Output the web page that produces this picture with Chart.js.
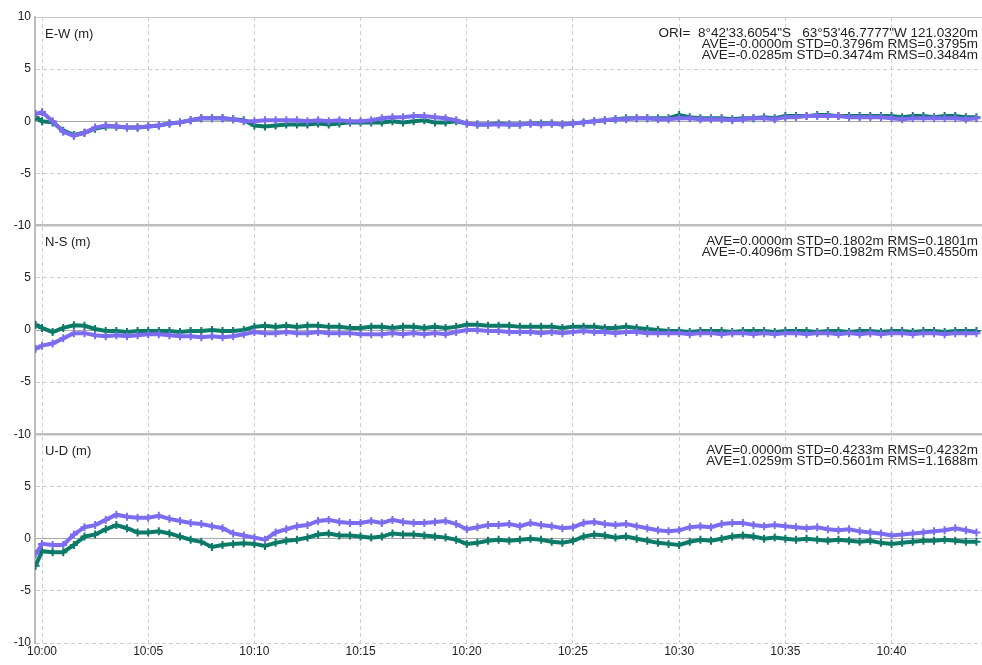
<!DOCTYPE html>
<html lang="en">
  <head>
    <meta charset="UTF-8" />
    <title>E-W / N-S / U-D</title>
    <style>
      html, body { margin: 0; padding: 0; background: #fff; overflow: hidden; }
      /* the layout keeps ~6px free on the right, so the box is a bit wider than the window */
      .chart { position: relative; width: 988px; height: 665px; }
      canvas { display: block; }
    </style>
  </head>
  <body>
    <script src="https://cdn.jsdelivr.net/npm/chart.js"></script>
    <div class="chart"><canvas id="chart"></canvas></div>

    <script>
      // minutes after 10:00 (one sample every 30 s)
      const times = [
        -0.3, 0, 0.5, 1, 1.5, 2, 2.5, 3, 3.5, 4,
        4.5, 5, 5.5, 6, 6.5, 7, 7.5, 8, 8.5, 9,
        9.5, 10, 10.5, 11, 11.5, 12, 12.5, 13, 13.5, 14,
        14.5, 15, 15.5, 16, 16.5, 17, 17.5, 18, 18.5, 19,
        19.5, 20, 20.5, 21, 21.5, 22, 22.5, 23, 23.5, 24,
        24.5, 25, 25.5, 26, 26.5, 27, 27.5, 28, 28.5, 29,
        29.5, 30, 30.5, 31, 31.5, 32, 32.5, 33, 33.5, 34,
        34.5, 35, 35.5, 36, 36.5, 37, 37.5, 38, 38.5, 39,
        39.5, 40, 40.5, 41, 41.5, 42, 42.5, 43, 43.5, 44,
      ];

      const ewTeal = [
        0.4, 0.0, -0.1, -0.9, -1.3, -1.1, -0.7, -0.5, -0.5, -0.6,
        -0.6, -0.5, -0.4, -0.2, -0.1, 0.1, 0.3, 0.3, 0.3, 0.2,
        0.1, -0.4, -0.5, -0.4, -0.3, -0.3, -0.3, -0.2, -0.3, -0.2,
        -0.1, -0.1, -0.1, -0.1, 0.0, -0.1, 0.0, 0.1, -0.1, -0.1,
        0.0, -0.2, -0.3, -0.3, -0.2, -0.3, -0.3, -0.2, -0.2, -0.2,
        -0.3, -0.2, -0.1, 0.0, 0.1, 0.2, 0.3, 0.3, 0.3, 0.3,
        0.3, 0.6, 0.4, 0.3, 0.3, 0.3, 0.2, 0.3, 0.3, 0.4,
        0.3, 0.5, 0.5, 0.5, 0.6, 0.6, 0.5, 0.5, 0.5, 0.5,
        0.5, 0.5, 0.4, 0.5, 0.5, 0.4, 0.5, 0.5, 0.4, 0.4,
      ];
      const ewPurple = [
        0.7, 0.9, 0.0, -1.0, -1.4, -1.1, -0.6, -0.4, -0.5, -0.6,
        -0.6, -0.5, -0.4, -0.2, -0.1, 0.1, 0.3, 0.3, 0.3, 0.2,
        0.0, 0.0, 0.1, 0.1, 0.1, 0.1, 0.0, 0.1, 0.0, 0.1,
        0.0, 0.0, 0.1, 0.3, 0.4, 0.4, 0.5, 0.5, 0.4, 0.3,
        0.1, -0.2, -0.3, -0.3, -0.3, -0.3, -0.3, -0.2, -0.3, -0.2,
        -0.3, -0.2, -0.1, 0.0, 0.1, 0.2, 0.2, 0.3, 0.3, 0.2,
        0.2, 0.3, 0.3, 0.2, 0.2, 0.2, 0.1, 0.2, 0.3, 0.3,
        0.2, 0.4, 0.4, 0.5, 0.5, 0.5, 0.5, 0.4, 0.4, 0.4,
        0.4, 0.3, 0.2, 0.3, 0.3, 0.3, 0.3, 0.3, 0.2, 0.3,
      ];

      const nsTeal = [
        0.5, 0.2, -0.2, 0.2, 0.45, 0.4, 0.1, -0.1, -0.1, -0.2,
        -0.1, -0.1, -0.1, -0.1, -0.2, -0.1, -0.1, 0.0, -0.1, -0.1,
        0.0, 0.3, 0.4, 0.3, 0.4, 0.3, 0.4, 0.4, 0.3, 0.3,
        0.2, 0.2, 0.3, 0.3, 0.2, 0.3, 0.3, 0.2, 0.3, 0.2,
        0.3, 0.5, 0.5, 0.4, 0.4, 0.4, 0.3, 0.3, 0.3, 0.3,
        0.2, 0.3, 0.3, 0.3, 0.2, 0.2, 0.3, 0.2, 0.1, 0.0,
        -0.1, -0.1, -0.2, -0.1, -0.1, -0.1, -0.2, -0.1, -0.1, -0.1,
        -0.2, -0.1, -0.1, -0.1, -0.2, -0.1, -0.1, -0.2, -0.1, -0.1,
        -0.2, -0.1, -0.1, -0.2, -0.1, -0.1, -0.2, -0.1, -0.1, -0.1,
      ];
      const nsPurple = [
        -1.8, -1.5, -1.3, -0.8, -0.3, -0.3, -0.5, -0.6, -0.5, -0.6,
        -0.5, -0.4, -0.4, -0.5, -0.6, -0.6, -0.7, -0.6, -0.7, -0.6,
        -0.4, -0.2, -0.3, -0.3, -0.2, -0.3, -0.3, -0.2, -0.3, -0.3,
        -0.3, -0.4, -0.4, -0.4, -0.3, -0.4, -0.3, -0.4, -0.3, -0.4,
        -0.2, 0.0, 0.0, -0.1, -0.1, -0.2, -0.2, -0.2, -0.3, -0.2,
        -0.3, -0.2, -0.1, -0.2, -0.2, -0.3, -0.2, -0.2, -0.3, -0.3,
        -0.3, -0.3, -0.4, -0.3, -0.3, -0.4, -0.3, -0.3, -0.4, -0.3,
        -0.4, -0.3, -0.3, -0.4, -0.3, -0.3, -0.4, -0.3, -0.4, -0.3,
        -0.4, -0.3, -0.3, -0.4, -0.3, -0.3, -0.4, -0.3, -0.3, -0.3,
      ];

      const udTeal = [
        -2.6, -1.2, -1.3, -1.3, -0.6, 0.2, 0.4, 0.9, 1.3, 1.0,
        0.6, 0.6, 0.7, 0.5, 0.2, -0.1, -0.3, -0.8, -0.6, -0.5,
        -0.45, -0.5, -0.7, -0.4, -0.2, -0.1, 0.1, 0.4, 0.5, 0.3,
        0.3, 0.2, 0.1, 0.2, 0.5, 0.4, 0.4, 0.3, 0.2, 0.1,
        -0.1, -0.5, -0.4, -0.2, -0.1, -0.2, -0.1, 0.0, -0.1, -0.3,
        -0.4, -0.2, 0.2, 0.4, 0.3, 0.1, 0.2, 0.0, -0.2, -0.4,
        -0.5, -0.6, -0.3, -0.1, -0.2, 0.0, 0.2, 0.3, 0.2, 0.0,
        0.1, 0.0, -0.1, 0.0, -0.1, -0.2, -0.1, -0.2, -0.3, -0.2,
        -0.4, -0.5, -0.4, -0.3, -0.2, -0.2, -0.1, -0.2, -0.3, -0.3,
      ];
      const udPurple = [
        -1.5, -0.5, -0.6, -0.6, 0.4, 1.1, 1.3, 1.8, 2.3, 2.1,
        2.0, 2.0, 2.2, 1.9, 1.7, 1.5, 1.4, 1.2, 1.0, 0.5,
        0.3, 0.1, -0.1, 0.6, 0.9, 1.2, 1.3, 1.7, 1.8, 1.6,
        1.5, 1.5, 1.7, 1.5, 1.8, 1.6, 1.5, 1.5, 1.6, 1.7,
        1.4, 0.9, 1.1, 1.3, 1.3, 1.4, 1.2, 1.5, 1.3, 1.2,
        1.0, 1.1, 1.5, 1.6, 1.4, 1.3, 1.4, 1.2, 1.0, 0.8,
        0.7, 0.8, 1.1, 1.2, 1.1, 1.4, 1.5, 1.5, 1.3, 1.2,
        1.3, 1.2, 1.1, 1.0, 1.1, 0.9, 0.8, 0.9, 0.7, 0.6,
        0.5, 0.3, 0.4, 0.5, 0.6, 0.7, 0.8, 1.0, 0.8, 0.6,
      ];

      const yTicks = [10, 5, 0, -5, -10];
      const panelTitles = ["E-W (m)", "N-S (m)", "U-D (m)"];
      const panelStats = [
        [
          "ORI=  8°42'33.6054\"S   63°53'46.7777\"W 121.0320m",
          "AVE=-0.0000m STD=0.3796m RMS=0.3795m",
          "AVE=-0.0285m STD=0.3474m RMS=0.3484m",
        ],
        ["AVE=0.0000m STD=0.1802m RMS=0.1801m", "AVE=-0.4096m STD=0.1982m RMS=0.4550m"],
        ["AVE=0.0000m STD=0.4233m RMS=0.4232m", "AVE=1.0259m STD=0.5601m RMS=1.1688m"],
      ];

      const TEAL = "#0b7a66";
      const PURPLE = "#7b6cf0";
      const FONT = "'Liberation Sans', Arial, sans-serif";

      const pts = (vals) => times.map((t, i) => ({ x: t, y: vals[i] }));

      function series(vals, color, axis, order) {
        return {
          data: pts(vals),
          yAxisID: axis,
          borderColor: color,
          backgroundColor: color,
          borderWidth: 4,
          pointStyle: "cross",
          pointRadius: 4,
          pointBorderWidth: 2,
          pointBorderColor: color,
          tension: 0,
          order: order,
        };
      }

      function yScale(weight, last, first) {
        return {
          type: "linear",
          position: "left",
          stack: "panels",
          stackWeight: 1,
          weight: weight,
          min: -10,
          max: 10,
          afterFit: (s) => { s.width = 35; },
          afterBuildTicks: (s) => { s.ticks = yTicks.map((v) => ({ value: v })); },
          ticks: {
            color: "#222",
            font: { family: FONT, size: 12 },
            padding: 4,
            callback: (v) => (v === 10 && !first ? "" : v),
          },
          grid: {
            drawTicks: false,
            color: (c) => {
              const v = c.tick && c.tick.value;
              if (v === 0) return "#a8a8a8";
              if (v === -10 && !last) return "#bdbdbd";
              if (v === 10) return first ? "#c8c8c8" : "rgba(0,0,0,0)";
              return "#cfcfcf";
            },
            lineWidth: (c) => {
              const v = c.tick && c.tick.value;
              return v === -10 && !last ? 2.5 : 1;
            },
          },
          border: {
            display: true,
            color: "#bdbdbd",
            width: 2,
            dash: (c) => {
              const v = c.tick && c.tick.value;
              if (v === undefined) return [];
              if (v === 0 || (v === -10 && !last) || v === 10) return [];
              return [4, 3];
            },
          },
        };
      }

      const textPlugin = {
        id: "panelText",
        afterDraw(chart) {
          const ctx = chart.ctx;
          const area = chart.chartArea;
          const right = Math.min(area.right, 982);
          const ids = ["yEW", "yNS", "yUD"];
          ctx.save();
          ctx.fillStyle = "#222";
          ctx.textBaseline = "middle";
          ids.forEach((id, k) => {
            const top = chart.scales[id].top;
            ctx.font = "13px " + FONT;
            ctx.textAlign = "left";
            ctx.fillText(panelTitles[k], area.left + 10, top + 17);
            ctx.font = "13.5px " + FONT;
            ctx.textAlign = "right";
            panelStats[k].forEach((line, j) => {
              ctx.fillText(line, right - 4, top + 16 + j * 11);
            });
          });
          ctx.restore();
        },
      };

      window.onload = () => {
        new Chart(document.getElementById("chart"), {
          type: "line",
          data: {
            datasets: [
              series(ewPurple, PURPLE, "yEW", 0),
              series(ewTeal, TEAL, "yEW", 1),
              series(nsPurple, PURPLE, "yNS", 0),
              series(nsTeal, TEAL, "yNS", 1),
              series(udPurple, PURPLE, "yUD", 0),
              series(udTeal, TEAL, "yUD", 1),
            ],
          },
          options: {
            responsive: true,
            maintainAspectRatio: false,
            animation: false,
            layout: { padding: { top: 17, right: 0, left: 0, bottom: 0 } },
            plugins: { legend: { display: false }, tooltip: { enabled: false } },
            scales: {
              x: {
                type: "linear",
                min: -0.33,
                max: 44.26,
                afterFit: (s) => {
                  s.height = 22;
                  s.paddingLeft = 0;
                  s.paddingRight = 0;
                },
                ticks: {
                  stepSize: 5,
                  includeBounds: false,
                  color: "#222",
                  font: { family: FONT, size: 12 },
                  padding: 1,
                  maxRotation: 0,
                  callback: (v) => "10:" + String(v).padStart(2, "0"),
                },
                grid: { drawTicks: false, color: "#cfcfcf", lineWidth: 1 },
                border: { display: false, dash: [4, 3] },
              },
              yEW: yScale(3, false, true),
              yNS: yScale(2, false, false),
              yUD: yScale(1, true, false),
            },
          },
          plugins: [textPlugin],
        });
      };
    </script>
  </body>
</html>
